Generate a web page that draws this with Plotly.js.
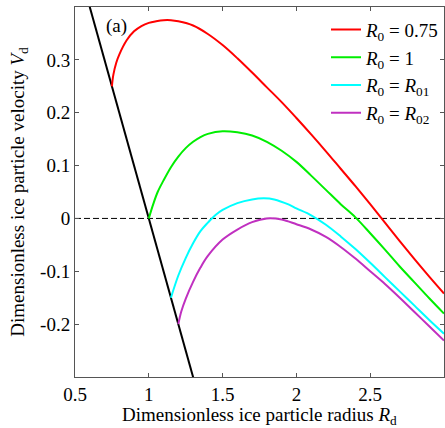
<!DOCTYPE html>
<html>
<head>
<meta charset="utf-8">
<script src="https://cdn.plot.ly/plotly-3.0.1.min.js"></script>
<style>
  html, body { margin: 0; padding: 0; background: #fff; }
  #chart { width: 445px; height: 428px; }
</style>
</head>
<body>
<div id="chart"></div>
<script>
// Dimensionless radius R_d and velocity V_d for each initial radius R_0
const redR = [0.75, 0.76, 0.78, 0.80, 0.85, 0.90, 0.95, 1.00, 1.05, 1.10, 1.15, 1.20, 1.30, 1.40, 1.50, 1.60, 1.70, 1.80, 1.90, 2.00, 2.10, 2.20, 2.30, 2.40, 2.50, 2.60, 2.70, 2.80, 2.90, 3.00];
const redV = [0.250, 0.272, 0.295, 0.310, 0.337, 0.354, 0.364, 0.370, 0.373, 0.375, 0.375, 0.373, 0.365, 0.349, 0.328, 0.303, 0.276, 0.248, 0.220, 0.190, 0.159, 0.127, 0.094, 0.061, 0.027, -0.008, -0.043, -0.077, -0.110, -0.142];

const greenR = [1.00, 1.03, 1.06, 1.10, 1.15, 1.20, 1.25, 1.30, 1.35, 1.40, 1.50, 1.60, 1.70, 1.80, 1.90, 2.00, 2.10, 2.20, 2.30, 2.40, 2.50, 2.60, 2.70, 2.80, 2.90, 3.00];
const greenV = [0.000, 0.027, 0.050, 0.072, 0.097, 0.117, 0.133, 0.145, 0.154, 0.160, 0.165, 0.163, 0.157, 0.145, 0.128, 0.107, 0.081, 0.054, 0.027, 0.002, -0.028, -0.059, -0.091, -0.121, -0.151, -0.180];

const cyanR = [1.15, 1.20, 1.25, 1.30, 1.35, 1.40, 1.45, 1.50, 1.60, 1.70, 1.78, 1.85, 1.95, 2.00, 2.10, 2.20, 2.30, 2.40, 2.50, 2.60, 2.70, 2.80, 2.90, 3.00];
const cyanV = [-0.150, -0.108, -0.075, -0.047, -0.024, -0.008, 0.006, 0.016, 0.029, 0.036, 0.038, 0.036, 0.026, 0.019, 0.006, -0.012, -0.034, -0.058, -0.084, -0.111, -0.138, -0.165, -0.192, -0.218];

const magentaR = [1.20, 1.22, 1.25, 1.30, 1.35, 1.40, 1.50, 1.60, 1.70, 1.80, 1.90, 2.00, 2.10, 2.20, 2.30, 2.40, 2.50, 2.60, 2.70, 2.80, 2.90, 3.00];
const magentaV = [-0.200, -0.176, -0.152, -0.120, -0.093, -0.071, -0.040, -0.021, -0.007, 0.000, -0.002, -0.011, -0.021, -0.035, -0.054, -0.076, -0.100, -0.124, -0.150, -0.177, -0.204, -0.231];

// Boundary line V_d = 1 - R_d
const boundaryR = [0.5, 1.4];
const boundaryV = [0.5, -0.4];

// Zero-velocity reference
const zeroR = [0.5, 3.0];
const zeroV = [0, 0];

const seriesNames = [
  '<i>R</i><sub>0</sub> = 0.75',
  '<i>R</i><sub>0</sub> = 1',
  '<i>R</i><sub>0</sub> = <i>R</i><sub>01</sub>',
  '<i>R</i><sub>0</sub> = <i>R</i><sub>02</sub>'
];

const xTickVals = [0.5, 1, 1.5, 2, 2.5, 3];
const xTickText = ['0.5', '1', '1.5', '2', '2.5', '3'];
const yTickVals = [-0.2, -0.1, 0, 0.1, 0.2, 0.3];
const yTickText = ['-0.2', '-0.1', '0', '0.1', '0.2', '0.3'];

const FONT = 'Liberation Serif, Times New Roman, serif';
const FS = 19;

const curve = (x, y, name, color) => ({
  x, y, name, type: 'scatter', mode: 'lines',
  line: { color, width: 2, shape: 'spline', smoothing: 1 }
});

const traces = [
  { x: zeroR, y: zeroV, type: 'scatter', mode: 'lines', showlegend: false,
    line: { color: '#000', width: 1, dash: '6px,3px' } },
  { x: boundaryR, y: boundaryV, type: 'scatter', mode: 'lines', showlegend: false,
    line: { color: '#000', width: 2 } },
  curve(redR, redV, seriesNames[0], '#ff0000'),
  curve(greenR, greenV, seriesNames[1], '#00ee00'),
  curve(cyanR, cyanV, seriesNames[2], '#00ffff'),
  curve(magentaR, magentaV, seriesNames[3], '#c030c0')
];

const axisCommon = {
  showgrid: false, zeroline: false,
  showline: true, linecolor: '#555', linewidth: 1,
  mirror: 'ticks', ticks: 'inside', ticklen: 4, tickcolor: '#555',
  tickfont: { family: FONT, size: FS, color: '#000' }
};

const layout = {
  width: 445, height: 428,
  margin: { l: 75, r: 1, t: 7, b: 51 },
  paper_bgcolor: '#fff', plot_bgcolor: '#fff',
  font: { family: FONT, size: FS, color: '#000' },
  xaxis: Object.assign({}, axisCommon, {
    range: [0.5, 3], tickvals: xTickVals, ticktext: xTickText
  }),
  yaxis: Object.assign({}, axisCommon, {
    range: [-0.3, 0.4], tickvals: yTickVals, ticktext: yTickText,
    title: { text: 'Dimensionless ice particle velocity <i>V</i><sub>d</sub>',
             font: { family: FONT, size: FS }, standoff: 10 }
  }),
  legend: {
    x: 1, y: 0.99, xanchor: 'right', yanchor: 'top',
    bgcolor: 'rgba(0,0,0,0)', borderwidth: 0,
    font: { family: FONT, size: FS },
    itemwidth: 30
  },
  annotations: [
    {
      x: 0.778, y: 0.365, xref: 'x', yref: 'y', text: '(a)', showarrow: false,
      font: { family: FONT, size: FS, color: '#000' }
    },
    {
      // x-axis title, placed just below the tick labels
      x: 0.5, y: 0, xref: 'paper', yref: 'paper', xanchor: 'center', yanchor: 'top',
      yshift: -25, showarrow: false,
      text: 'Dimensionless ice particle radius <i>R</i><sub>d</sub>',
      font: { family: FONT, size: FS, color: '#000' }
    }
  ],
  showlegend: true
};

Plotly.newPlot('chart', traces, layout, { displayModeBar: false, staticPlot: true });
</script>
</body>
</html>
